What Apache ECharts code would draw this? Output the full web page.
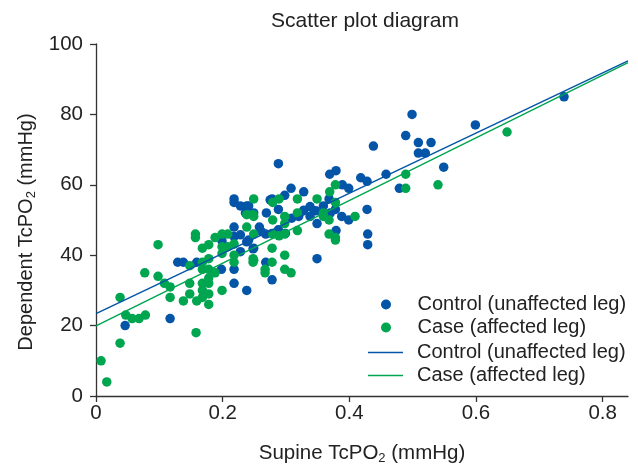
<!DOCTYPE html>
<html>
<head>
<meta charset="utf-8">
<script src="https://cdn.jsdelivr.net/npm/echarts@6/dist/echarts.min.js"></script>
<style>
html,body{margin:0;padding:0;background:#fff;}
#chart{width:638px;height:464px;}
</style>
</head>
<body>
<div id="chart"></div>
<script>
const titleText = 'Scatter plot diagram';
const controlName = 'Control (unaffected leg)';
const caseName = 'Case (affected leg)';
const xTicks = [0, 0.2, 0.4, 0.6, 0.8];
const yTicks = [0, 20, 40, 60, 80, 100];

const controlPoints = [
  [0.046,20],[0.117,22],[0.129,38],[0.138,38],[0.159,38],[0.198,36],[0.218,36],[0.218,32],
  [0.238,30],[0.268,38],[0.278,33],[0.199,44],[0.218,45.3],[0.228,45.8],[0.238,43.8],[0.248,41.8],
  [0.228,41],[0.261,46.7],[0.268,46],[0.218,56],[0.218,55],[0.228,54],[0.238,54],[0.249,52],
  [0.269,52],[0.275,55.7],[0.218,48],[0.258,48],[0.249,42],[0.349,39],[0.429,43],[0.429,46],
  [0.379,47],[0.288,66],[0.369,63],[0.379,64],[0.389,60],[0.399,59],[0.418,62],[0.428,61],
  [0.438,71],[0.458,63],[0.479,59],[0.499,80],[0.489,74],[0.509,72],[0.529,72],[0.509,69],
  [0.520,69],[0.549,65],[0.599,77],[0.739,85],[0.308,59],[0.328,58],[0.298,57],[0.278,56],
  [0.288,53],[0.368,56],[0.428,53],[0.241,54],[0.236,52],[0.347,52.6],[0.338,53.8],[0.328,52.8],
  [0.320,51],[0.309,50.5],[0.338,51],[0.349,49],[0.359,54],[0.370,52],[0.378,53],[0.388,51],
  [0.399,50],[0.288,47.2],[0.299,46.2],[0.278,46.2],[0.241,44.3]
];

const casePoints = [
  [0.008,10],[0.017,4],[0.038,15],[0.038,28],[0.047,23],[0.057,22],[0.068,22],[0.078,23],
  [0.077,35],[0.098,34],[0.108,32],[0.117,31],[0.117,28],[0.098,43],[0.138,27],[0.148,29],
  [0.148,32],[0.148,37],[0.158,18],[0.159,27],[0.168,30],[0.168,32],[0.168,36],[0.168,38],
  [0.168,28],[0.178,39],[0.178,36],[0.178,32],[0.178,33.5],[0.178,29],[0.178,26],[0.188,35],
  [0.199,40.5],[0.199,30],[0.218,40],[0.218,38],[0.248,39],[0.248,38],[0.267,36],[0.267,35],
  [0.157,46],[0.157,45],[0.168,42],[0.178,43],[0.188,45],[0.199,46],[0.208,46],[0.199,42.4],
  [0.208,42.4],[0.218,43.2],[0.249,56],[0.238,51.5],[0.248,51.5],[0.238,48],[0.249,46],[0.249,38.6],
  [0.278,42],[0.298,40],[0.278,38],[0.298,36],[0.308,35],[0.378,44.3],[0.378,60],[0.369,58],
  [0.349,56],[0.318,56],[0.289,56],[0.279,55],[0.378,55],[0.409,51],[0.359,52],[0.359,51],
  [0.368,50],[0.298,51],[0.298,49],[0.279,50],[0.249,51],[0.318,52],[0.318,47],[0.368,46],
  [0.378,45],[0.289,45.5],[0.298,46],[0.279,46],[0.489,63],[0.489,59],[0.540,60],[0.649,75]
];

const controlLine = [[0, 23.4], [0.84, 95.2]];
const caseLine = [[0, 19.9], [0.84, 94.7]];

const blue = '#0455a8';
const green = '#00a550';
const font = '"Liberation Sans", Arial, Helvetica, sans-serif';
const txt = '#222';

const chart = echarts.init(document.getElementById('chart'), null, {renderer: 'canvas'});
chart.setOption({
  animation: false,
  backgroundColor: '#fff',
  textStyle: {fontFamily: font},
  title: {
    text: titleText, left: 360, top: 6, textAlign: 'center',
    textStyle: {fontFamily: font, fontSize: 21, fontWeight: 'normal', color: txt}
  },
  grid: {left: 96, right: 10, top: 44, bottom: 68, containLabel: false, outerBoundsMode: 'none'},
  legend: [
    {
      data: [{name: controlName, icon: 'circle'}, {name: caseName, icon: 'circle'}],
      orient: 'vertical', left: 376, top: 289, itemWidth: 35, itemHeight: 10, itemGap: 2,
      textStyle: {fontFamily: font, fontSize: 20, color: txt, lineHeight: 21, padding: [0,0,0,9]}
    },
    {
      data: [{name: controlName + ' ', icon: 'rect'}, {name: caseName + ' ', icon: 'rect'}],
      orient: 'vertical', left: 363, top: 337, itemWidth: 35, itemHeight: 1.5, itemGap: 2,
      textStyle: {fontFamily: font, fontSize: 20, color: txt, lineHeight: 21, padding: [0,0,0,9]}
    }
  ],
  xAxis: {
    type: 'value', min: 0, max: 0.84, interval: 0.2,
    name: 'Supine TcPO{s|2} (mmHg)', nameLocation: 'middle', nameGap: 46,
    nameTextStyle: {fontFamily: font, fontSize: 20.5, color: txt,
      rich: {s: {fontFamily: font, fontSize: 13, color: txt, padding: [10,0,0,0]}}},
    axisLine: {lineStyle: {color: '#333', width: 1.3}},
    axisTick: {show: true, length: 6, lineStyle: {color: '#333', width: 1.3}},
    axisLabel: {fontFamily: font, fontSize: 20.5, color: txt, margin: 7, showMaxLabel: false,
      formatter: v => (xTicks.indexOf(v) >= 0 ? String(v) : '')},
    splitLine: {show: false}
  },
  yAxis: {
    type: 'value', min: 0, max: 100, interval: 20,
    name: 'Dependent TcPO{s|2} (mmHg)', nameLocation: 'middle', nameGap: 58,
    nameTextStyle: {fontFamily: font, fontSize: 20, color: txt, padding: [0, 24, 0, 0],
      rich: {s: {fontFamily: font, fontSize: 13, color: txt, padding: [10,0,0,0]}}},
    axisLine: {show: true, lineStyle: {color: '#333', width: 1.3}},
    axisTick: {show: true, length: 6, lineStyle: {color: '#333', width: 1.3}},
    axisLabel: {fontFamily: font, fontSize: 20.5, color: txt, margin: 13,
      formatter: v => (yTicks.indexOf(v) >= 0 ? String(v) : '')},
    splitLine: {show: false}
  },
  series: [
    {name: controlName, type: 'scatter', data: controlPoints, symbol: 'circle', symbolSize: 9.5,
      itemStyle: {color: blue, opacity: 1}, z: 2},
    {name: caseName, type: 'scatter', data: casePoints, symbol: 'circle', symbolSize: 9.5,
      itemStyle: {color: green, opacity: 1}, z: 2},
    {name: controlName + ' ', type: 'line', data: controlLine, showSymbol: false, symbol: 'none',
      lineStyle: {color: blue, width: 1.5}, itemStyle: {color: blue}, z: 3},
    {name: caseName + ' ', type: 'line', data: caseLine, showSymbol: false, symbol: 'none',
      lineStyle: {color: green, width: 1.5}, itemStyle: {color: green}, z: 3}
  ]
});
</script>
</body>
</html>
